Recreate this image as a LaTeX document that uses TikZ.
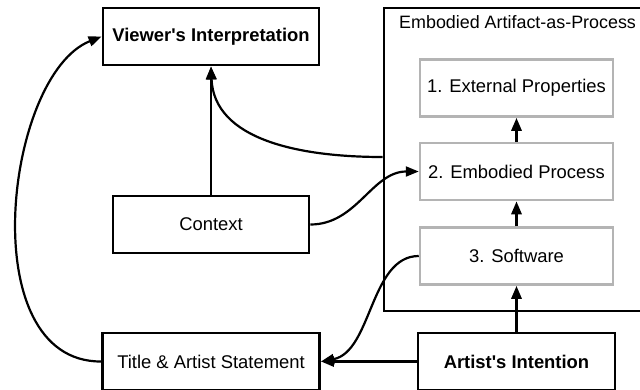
\documentclass[tikz,border=0pt]{standalone}
\usepackage{fontspec}
\setmainfont{Liberation Sans}
\usetikzlibrary{arrows.meta}

\definecolor{innergray}{HTML}{B4B4B4}

\tikzset{
  every node/.style={font=\fontsize{18.4}{21}\selectfont},
  box/.style={draw=black, line width=2.9pt, fill=white, minimum height=57pt, inner sep=0pt},
  stagebox/.style={draw=innergray, line width=2.5pt, fill=white, minimum width=193pt, minimum height=57pt, inner sep=0pt},
  link/.style={line width=2.8pt, -{Triangle[length=13pt,width=10pt]}},
  thinlink/.style={line width=2.2pt, -{Triangle[length=13pt,width=10pt]}}
}

\begin{document}
\begin{tikzpicture}[x=1pt,y=-1pt]
  \useasboundingbox (0,0) rectangle (640,389);

  % container for the three stages
  \node[draw=black, line width=2.9pt, minimum width=276pt, minimum height=303pt, inner sep=0pt] (outer) at (522,159.5) {};
  \node[anchor=west, inner sep=0pt, font=\fontsize{17.9}{21}\selectfont] (outerlabel) at (399,22.5) {Embodied Artifact-as-Process};

  % main boxes
  \node[box, minimum width=216pt] (viewer)  at (211,36.5)  {\bfseries Viewer\textquotesingle s Interpretation};
  \node[box, minimum width=196pt] (context) at (211,224.5) {Context};
  \node[box, minimum width=217pt] (title)   at (211,361.5) {Title \& Artist Statement};
  \node[box, minimum width=197pt] (artist)  at (516.5,361.5) {\bfseries Artist\textquotesingle s Intention};

  % stages inside the container
  \node[stagebox] (ext)  at (516.5,88)    {1. External Properties};
  \node[stagebox] (emb)  at (516.5,171.5) {2. Embodied Process};
  \node[stagebox] (soft) at (516.5,256)   {3. Software};

  \coordinate (outerexit) at (outer.west |- 0,157);

  % connectors
  \draw[link] (context.north) -- (viewer.south);
  \draw[thinlink] (outerexit) .. controls (300,157) and (214,140) .. (viewer.south);
  \draw[thinlink] (context.east) .. controls (357,224.5) and (372,171.5) .. (emb.west);
  \draw[thinlink] (soft.west) .. controls (370,256) and (372,352) .. (title.east);
  \draw[link] (artist.west) -- (title.east);
  \draw[link] (artist.north) -- (soft.south);
  \draw[link] (soft.north) -- (emb.south);
  \draw[link] (emb.north) -- (ext.south);
  \draw[thinlink] (title.west) .. controls (-28,362) and (5,75) .. (viewer.west);
\end{tikzpicture}
\end{document}
